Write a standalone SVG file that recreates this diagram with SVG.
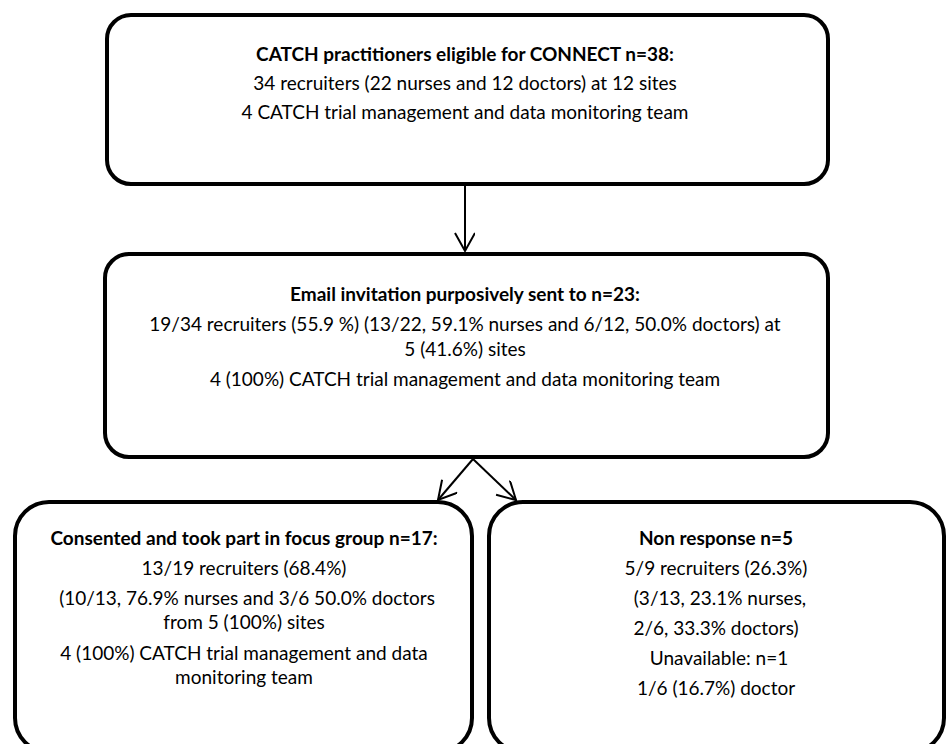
<svg xmlns="http://www.w3.org/2000/svg" width="948" height="744" viewBox="0 0 948 744">
<style>
.box{fill:#fff;stroke:#000;stroke-width:4}
text{font-family:Lato,"Open Sans","DejaVu Sans",sans-serif;font-size:19px;fill:#000;text-anchor:middle}
.b{font-weight:bold}
.conn{stroke:#000;stroke-width:2;fill:none}
</style>
<defs>
<marker id="arr" markerWidth="24" markerHeight="24" refX="20" refY="10" orient="auto" markerUnits="userSpaceOnUse">
<path d="M2,0 L20,10 L2,20" fill="none" stroke="#000" stroke-width="2"/>
</marker>
</defs>
<rect width="948" height="744" fill="#fff"/>
<g id="connectors">
<line class="conn" x1="465" y1="186" x2="465" y2="251" marker-end="url(#arr)"/>
<line class="conn" x1="473" y1="459" x2="438" y2="500" marker-end="url(#arr)"/>
<line class="conn" x1="473" y1="459" x2="516" y2="500" marker-end="url(#arr)"/>
</g>
<g id="n1">
<rect class="box" x="107" y="15" width="721" height="169" rx="24"/>
<text x="465" y="61" class="b">CATCH practitioners eligible for CONNECT n=38:</text>
<text x="465" y="90">34 recruiters (22 nurses and 12 doctors) at 12 sites</text>
<text x="465" y="119">4 CATCH trial management and data monitoring team</text>
</g>
<g id="n2">
<rect class="box" x="105" y="254" width="723" height="203" rx="24"/>
<text x="465" y="301" class="b">Email invitation purposively sent to n=23:</text>
<text x="465" y="331">19/34 recruiters (55.9 %) (13/22, 59.1% nurses and 6/12, 50.0% doctors) at</text>
<text x="465" y="356">5 (41.6%) sites</text>
<text x="465" y="386">4 (100%) CATCH trial management and data monitoring team</text>
</g>
<g id="n3">
<rect class="box" x="15" y="502" width="457" height="250" rx="34"/>
<text x="244" y="545" class="b">Consented and took part in focus group n=17:</text>
<text x="244" y="575">13/19 recruiters (68.4%)</text>
<text x="247" y="605">(10/13, 76.9% nurses and 3/6 50.0% doctors</text>
<text x="244" y="629">from 5 (100%) sites</text>
<text x="244" y="660">4 (100%) CATCH trial management and data</text>
<text x="244" y="684">monitoring team</text>
</g>
<g id="n4">
<rect class="box" x="489" y="502" width="455" height="250" rx="34"/>
<text x="716" y="545" class="b">Non response n=5</text>
<text x="716" y="575">5/9 recruiters (26.3%)</text>
<text x="720" y="605">(3/13, 23.1% nurses,</text>
<text x="716" y="635">2/6, 33.3% doctors)</text>
<text x="719" y="665">Unavailable: n=1</text>
<text x="716" y="695">1/6 (16.7%) doctor</text>
</g>
</svg>
